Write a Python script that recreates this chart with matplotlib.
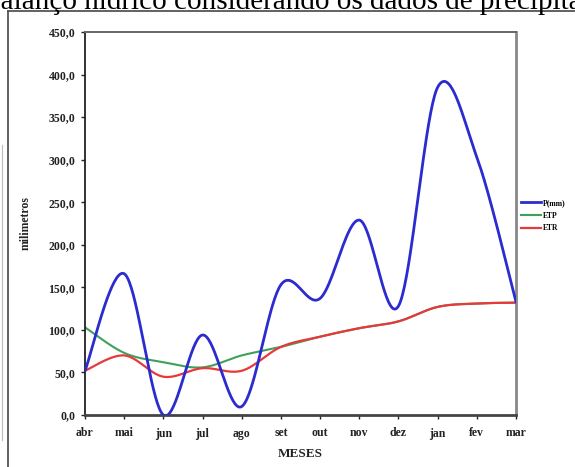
import numpy as np
import matplotlib
matplotlib.use("Agg")
import matplotlib.pyplot as plt
from matplotlib.lines import Line2D

meses = ["abr", "mai", "jun", "jul", "ago", "set", "out", "nov", "dez", "jan", "fev", "mar"]
p_mm = [52, 166, 0, 94, 10, 153, 137, 229, 128, 385, 303, 133]
etp = [103, 73, 62, 56, 70, 80, 92, 102, 110, 127, 131, 132]
etr = [52, 70, 45, 55, 52, 80, 92, 102, 110, 127, 131, 132]
yticks = [0, 50, 100, 150, 200, 250, 300, 350, 400, 450]


def smooth(xs, ys, n=40):
    """Bezier smoothing (Excel-like) through the given points."""
    P = np.column_stack([xs, ys]).astype(float)
    m = len(P)
    out = [P[0]]
    t = np.linspace(0, 1, n)[1:, None]
    for i in range(m - 1):
        p0 = P[i - 1] if i > 0 else P[i]
        p1 = P[i]
        p2 = P[i + 1]
        p3 = P[i + 2] if i + 2 < m else P[i + 1]
        b1 = p1 + (p2 - p0) / 6.0
        b2 = p2 - (p3 - p1) / 6.0
        seg = ((1 - t) ** 3) * p1 + 3 * ((1 - t) ** 2) * t * b1 + 3 * (1 - t) * t ** 2 * b2 + t ** 3 * p2
        out.extend(seg)
    out = np.array(out)
    return out[:, 0], out[:, 1]


W, H = 575, 467
fig = plt.figure(figsize=(W / 100, H / 100), dpi=100)
fig.patch.set_facecolor("white")

serif = ["Liberation Serif", "DejaVu Serif"]

# header text (cut off at the top and right, as in the source)
fig.text(-14 / W, 1 - 9 / H, "balanço hídrico considerando os dados de precipitação",
         fontsize=21, family=serif, ha="left", va="baseline", color="black")

# outer frame lines
fig.add_artist(Line2D([7.5 / W, 7.5 / W], [0, 1 - 11 / H], color="#555555", lw=1.3, transform=fig.transFigure))
fig.add_artist(Line2D([7.5 / W, 1], [1 - 11 / H, 1 - 11 / H], color="#555555", lw=1.3, transform=fig.transFigure))
fig.add_artist(Line2D([1.5 / W, 1.5 / W], [1 - 440 / H, 1 - 145 / H], color="#bbbbbb", lw=0.8, transform=fig.transFigure))

ax = fig.add_axes([85 / W, (H - 415) / H, (516 - 85) / W, (415 - 32) / H])
x = np.arange(len(meses))

sx, sy = smooth(x, p_mm)
ax.plot(sx, sy, color="#2b2bd0", lw=2.0, label="P(mm)", zorder=3)
sx, sy = smooth(x, etp)
ax.plot(sx, sy, color="#3fa05a", lw=1.5, label="ETP", zorder=2)
sx, sy = smooth(x, etr)
ax.plot(sx, sy, color="#e8393a", lw=1.6, label="ETR", zorder=2.5)

ax.set_xlim(0, len(meses) - 1)
ax.set_ylim(0, 450)
ax.set_xticks(x)
ax.set_xticklabels(meses)
ax.set_yticks(yticks)
ax.set_yticklabels([f"{v:.1f}".replace(".", ",") for v in yticks])

for lab in ax.get_xticklabels() + ax.get_yticklabels():
    lab.set_fontfamily(serif)
    lab.set_fontweight("bold")
    lab.set_fontsize(8.5)
    lab.set_color("#222222")
ax.tick_params(axis="both", direction="out", length=3, width=1, color="#222222")
ax.tick_params(axis="x", pad=6)
ax.tick_params(axis="y", pad=4)

ax.set_xlabel("MESES", family=serif, fontweight="bold", fontsize=9.5, labelpad=6, color="#222222")
ax.set_ylabel("milimetros", family=serif, fontweight="bold", fontsize=8.5, labelpad=12, color="#222222")

ax.spines["left"].set_color("#222222")
ax.spines["bottom"].set_color("#444444")
ax.spines["left"].set_linewidth(1.3)
ax.spines["bottom"].set_linewidth(2.0)
ax.spines["top"].set_color("#666666")
ax.spines["right"].set_color("#888888")
ax.spines["top"].set_linewidth(1.4)
ax.spines["right"].set_linewidth(2.0)

leg = fig.legend(loc="upper left", bbox_to_anchor=(518 / W, 1 - 196 / H), frameon=False,
                 prop={"family": serif, "weight": "bold", "size": 5.5},
                 handlelength=2.6, handletextpad=0.3, labelspacing=0.6, borderaxespad=0)

fig.savefig("out.png", dpi=100)
